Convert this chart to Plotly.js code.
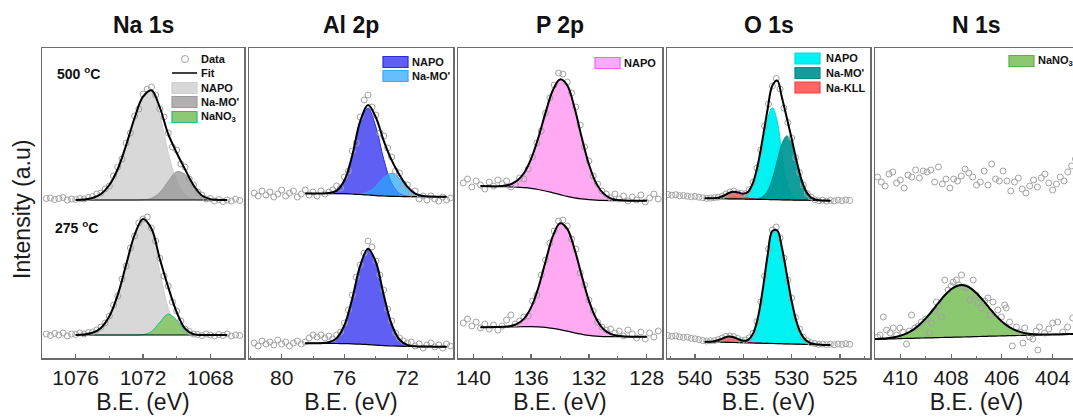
<!DOCTYPE html>
<html>
<head>
<meta charset="utf-8">
<script src="https://cdn.plot.ly/plotly-3.0.1.min.js"></script>
<style>
html,body{margin:0;padding:0;overflow:hidden;background:#fff;}
#chart{width:1080px;height:420px;}
</style>
</head>
<body>
<div id="chart"></div>
<script>
// ---------------- DATA (binding energy in eV, intensity in a.u.) ----------------
// Na 1s
const naX = [1076,1075.5,1075,1074.5,1074,1073.5,1073,1072.5,1072,1071.5,1071,1070.5,1070,1069.5,1069,1068.5,1068,1067.5,1067];
const naTopBg   = [157,157,157,157,157,157,157,157,157,157,157,157,157,157,157,157,157,157,157];
const naTopNapo = [157.1,157.5,159,163,172,188,212,239,260,265,242,204,176,162,158,157,157,157,157];
const naTopMo   = [157,157,157,157,157,157,157,157,157.3,158.8,164.5,175.8,185.3,182.6,170.9,161.5,157.9,157.1,157];
const naTopFit  = [157.1,157.5,159,163,172,188,212,239,260.3,266.8,249.5,222.8,204.3,187.6,171.9,161.5,157.9,157.1,157];
const naBotBg   = [22,22,22,22,22,22,22,22,22,22,22,22,22,22,22,22,22,22,22];
const naBotNapo = [22.1,22.5,24.2,29.1,40.7,62.2,92.4,122,137.5,125,85.3,48.9,29.9,23.6,22.2,22,22,22,22];
const naBotNano3= [22,22,22,22,22,22,22,22,22.4,25.4,34.7,42.9,37,26.7,22.65,22,22,22,22];
const naBotFit  = [22.1,22.5,24.2,29.1,40.7,62.2,92.4,122,137.9,128.4,98,69.8,44.9,28.3,22.85,22,22,22,22];
const naDataX = [1077.75,1077.5,1077.25,1077,1076.75,1076.5,1076.25,1076,1075.75,1075.5,1075.25,1075,1074.75,1074.5,1074.25,1074,1073.75,1073.5,1073.25,1073,1072.75,1072.5,1072.25,1072,1071.75,1071.5,1071.25,1071,1070.75,1070.5,1070.25,1070,1069.75,1069.5,1069.25,1069,1068.75,1068.5,1068.25,1068,1067.75,1067.5,1067.25,1067,1066.75,1066.5,1066.25];
const naTopData = [158.5,159,157.5,158.5,159.5,157,158,157.5,158.5,158,159.5,160.5,163,164,168,171,181,190,198,214,224,241,248,263,268,270,262,248,240,224,210,207,193,190,178,172,165,162,158,158.5,156,157.5,155.5,157,156,158,156.5];
const naBotData = [23,21.5,23.5,22,24,21,23,22.5,24,23,24.5,25,27,30,34,41,52,61,78,91,109,121,134,138,140,129,116,99,81,71,55,46,36,28,25.5,23,22.5,21.5,23,22,21,22.5,21.5,23,21,22,21.5];

// Al 2p
const alX = [78.5,78,77.5,77,76.5,76,75.5,75,74.5,74,73.5,73,72.5,72,71.5,71,70.5,70,69.5];
const alTopBg   = [163.5,163.5,163.5,163.5,163.4,163.3,163,162.6,162,161.4,161,160.7,160.5,160.4,160.3,160.3,160.3,160.3,160.3];
const alTopNapo = [163.5,163.5,163.5,163.9,166.4,176.8,201.9,235.2,248.8,230.1,197.8,173.9,163.7,160.9,160.3,160.3,160.3,160.3,160.3];
const alTopMo   = [163.5,163.5,163.5,163.5,163.4,163.3,163.1,163.2,165.1,170.8,179.4,183.7,178.9,169.8,163.4,160.9,160.4,160.3,160.3];
const alTopFit  = [163.5,163.5,163.5,163.9,166.4,176.8,202,235.8,251.9,239.5,216.2,196.9,182.1,170.3,163.4,160.9,160.4,160.3,160.3];
const alBotBg   = [13.7,13.7,13.7,13.6,13.5,13.4,13.2,12.9,12.4,11.9,11.4,11,10.8,10.6,10.5,10.4,10.4,10.3,10.3];
const alBotFit  = [13.7,13.7,13.8,14.7,18.9,32,58.7,91.3,108.3,94.8,62.1,32.9,17.5,12,10.7,10.4,10.4,10.3,10.3];
const alDataX = [81.75,81.5,81.25,81,80.75,80.5,80.25,80,79.75,79.5,79.25,79,78.75,78.5,78.25,78,77.75,77.5,77.25,77,76.75,76.5,76.25,76,75.75,75.5,75.25,75,74.75,74.5,74.25,74,73.75,73.5,73.25,73,72.75,72.5,72.25,72,71.75,71.5,71.25,71,70.75,70.5,70.25,70,69.75,69.5,69.25];
const alTopData = [164,161,166,162,165,160,163,167,161,164,166,160,163,167,162,165,161,166,163,165,167,171,169,180,186,206,214,240,257,262,250,242,224,221,209,200,186,184,173,172,164,166,158,161,157,161,158,156,160,157,159];
const alBotData = [14,11,16,13,15,12,17,13,15,11,14,16,13,15,19,22,20,22,19,21,18,22,25,34,47,62,80,92,104,116,110,96,82,67,48,36,24,19,16,14,15,11,13,9,12,14,10,12,9,13,11];

// P 2p
const pX = [139.5,139,138.5,138,137.5,137,136.5,136,135.5,135,134.5,134,133.5,133,132.5,132,131.5,131,130.5,130,129.5,129,128.5,128];
const pTopBg  = [171,170.8,170.6,170.4,170.1,169.8,169.3,168.6,167.5,166,164.2,162.4,160.6,159.2,158.1,157.4,156.9,156.6,156.4,156.3,156.3,156.3,156.3,156.3];
const pTopFit = [171,170.8,170.6,171.1,172.3,176,183.8,198.2,219.3,244.4,266.5,277.6,271.7,249.4,219.7,192.8,173.9,163.6,158.7,157,156.4,156.3,156.3,156.3];
const pBotBg  = [29.7,29.8,29.9,30,30.1,30.2,30.3,30.3,30.1,29.6,28.6,27.3,25.8,24.2,22.8,21.6,20.8,20.4,20.3,20.3,20.3,20.3,20.3,20.3];
const pBotFit = [29.7,29.8,29.9,30.2,30.8,32.9,38.1,49.6,69.3,95.6,120.6,133.7,128.2,108.2,81.4,56.4,38.5,28,23.1,21.2,20.5,20.3,20.3,20.3];
const pDataX = [140.7,140.4,140.1,139.8,139.5,139.2,138.9,138.6,138.3,138,137.7,137.4,137.1,136.8,136.5,136.2,135.9,135.6,135.3,135,134.7,134.4,134.1,133.8,133.5,133.2,132.9,132.6,132.3,132,131.7,131.4,131.1,130.8,130.5,130.2,129.9,129.6,129.3,129,128.7,128.4,128.1,127.8,127.5,127.2];
const pTopData = [174,178,170,176,172,168,175,171,177,173,176,170,173,179,178,188,200,214,226,244,259,272,284,283,275,264,250,232,210,196,181,173,166,163,159,163,158,161,156,160,157,162,155,159,163,158];
const pBotData = [34,38,31,35,29,33,28,32,27,31,37,42,33,36,40,41,56,62,82,97,114,126,136,137,131,118,108,84,72,57,46,35,30,27,28,24,26,21,27,23,19,25,18,24,20,26];

// O 1s
const oX = [539,538.5,538,537.5,537,536.5,536,535.5,535,534.5,534,533.5,533,532.5,532,531.5,531,530.5,530,529.5,529,528.5,528,527.5,527,526.5,526];
const oTopBg   = [158.7,158.6,158.5,158.4,158.3,158.2,158.2,158.1,158,157.9,157.8,157.7,157.6,157.5,157.4,157.3,157.2,157.1,157,156.9,156.9,156.8,156.7,156.6,156.5,156.4,156.3];
const oTopNapo = [158.7,158.6,158.5,158.4,158.3,158.2,158.3,158.6,160,164.1,174,191.7,215.9,238.6,249.3,235.9,202.6,174.9,161.7,157.7,157,156.8,156.7,156.6,156.5,156.4,156.3];
const oTopMo   = [158.7,158.6,158.5,158.4,158.3,158.2,158.2,158.1,158,157.9,157.9,158.4,160.4,166.1,178.2,196.1,213.6,221.1,213.4,195.7,177.7,165.4,159.5,157.3,156.6,156.4,156.3];
const oTopKll  = [158.7,158.65,158.8,159.6,161.5,164,165.2,163.9,161.2,159.1,158.1,157.75,157.6,157.5,157.4,157.3,157.2,157.1,157,156.9,156.9,156.8,156.7,156.6,156.5,156.4,156.3];
const oTopFit  = [158.7,158.65,158.8,159.6,161.5,164,165.3,164.4,163.2,165.3,174.4,192.5,218.7,247.2,271.5,276.5,259,238.9,218.1,196.5,177.8,165.4,159.5,157.3,156.6,156.4,156.3];
const oBotBg   = [15.25,15.1,15,14.9,14.75,14.6,14.5,14.4,14.25,14.1,14,13.9,13.75,13.6,13.5,13.4,13.25,13.1,13,12.9,12.75,12.6,12.5,12.4,12.25,12.1,12];
const oBotNapo = [15.25,15.1,15,14.9,14.75,14.6,14.5,14.5,14.85,16.8,23.3,39.2,67.05,101,126,126.5,108.75,82.3,55.6,35.3,22.75,16.4,13.7,12.7,12.35,12.1,12];
const oBotKll  = [15.25,15.3,15.8,17.2,19.25,20.6,19.8,17.6,15.55,14.5,14.1,13.9,13.75,13.6,13.5,13.4,13.25,13.1,13,12.9,12.75,12.6,12.5,12.4,12.25,12.1,12];
const oBotFit  = [15.25,15.3,15.8,17.2,19.25,20.6,19.8,17.7,16.15,17.2,23.4,39.2,67.05,101,126,126.5,108.75,82.3,55.6,35.3,22.75,16.4,13.7,12.7,12.35,12.1,12];
const oDataX = [542.8,542.4,542,541.6,541.2,540.8,540.4,540,539.6,539.2,538.8,538.4,538,537.6,537.2,536.8,536.4,536,535.6,535.2,534.8,534.4,534,533.6,533.2,532.8,532.4,532,531.6,531.2,530.8,530.4,530,529.6,529.2,528.8,528.4,528,527.6,527.2,526.8,526.4,526,525.6,525.2,524.8,524.4,524];
const oTopData = [162.5,161.8,162.3,161.2,161.6,160.8,160.2,160.6,159.8,159.2,158.6,158.9,159.3,159.8,160.9,163.1,164.9,165.9,164.2,163.6,163.2,167.3,174.8,189,207,231,253,271,278.5,268,249,234.5,219,199.5,184.5,172,163.5,160,157.2,156.2,156.8,155.9,156.6,156,156.9,156.2,157.1,156.5];
const oBotData = [21.5,20.8,21.2,20.1,19.6,19.9,18.7,18.2,17.4,16.5,16,16.2,16.4,17.4,18.9,20.6,21,20.5,18.6,16.4,16.9,19.2,23.8,35.5,55,81,108,127,130,119,99,77,59,39.5,28,19.8,16.1,14.2,13.4,12.6,12.9,12.3,12.8,12.2,13,12.5,13.3,12.7];

// N 1s
const nTopX = [410.9,410.75,410.6,410.45,410.3,410.15,410,409.85,409.7,409.55,409.4,409.25,409.1,408.95,408.8,408.65,408.5,408.35,408.2,408.05,407.9,407.75,407.6,407.45,407.3,407.15,407,406.85,406.7,406.55,406.4,406.25,406.1,405.95,405.8,405.65,405.5,405.35,405.2,405.05,404.9,404.75,404.6,404.45,404.3,404.15,404,403.85,403.7,403.55,403.4,403.25,403.1];
const nTopData = [180,175,171,183,185,174,177,169,182,180,187,179,186,185,187,175,190,173,178,169,178,176,181,188,184,180,172,175,186,172,193,178,176,186,176,166,175,179,168,164,171,177,170,179,183,174,167,173,180,176,185,191,198];
const nX = [411,410.75,410.5,410.25,410,409.75,409.5,409.25,409,408.75,408.5,408.25,408,407.75,407.5,407.25,407,406.75,406.5,406.25,406,405.75,405.5,405.25,405,404.75,404.5,404.25,404,403.75,403.5,403.25,403];
const nBotBg  = [17.7,17.9,18,18.2,18.4,18.6,18.7,18.9,19.1,19.2,19.4,19.6,19.7,19.9,20,20.2,20.4,20.6,20.8,20.9,21.1,21.3,21.4,21.6,21.8,21.9,22.1,22.3,22.5,22.6,22.8,23,23.1];
const nBotFit = [17.9,18.3,18.8,19.8,21.3,23.7,27.2,32.2,38.6,46,54.1,61.7,67.7,71.3,71.7,69.1,63.8,56.8,49.2,41.8,35.6,30.7,27.1,24.9,23.6,22.8,22.5,22.5,22.6,22.6,22.8,23,23.1];
const nBotDataX = [410.9,410.8,410.67,410.54,410.4,410.28,410.15,410.02,409.9,409.76,409.65,409.56,409.43,409.3,409.17,409,408.84,408.77,408.65,408.58,408.48,408.38,408.25,408.12,408,407.92,407.79,407.7,407.59,407.5,407.39,407.26,407.13,407.02,406.94,406.81,406.68,406.55,406.48,406.35,406.16,406.02,405.89,405.83,405.7,405.59,405.43,405.3,405.17,405.1,404.91,404.78,404.65,404.58,404.52,404.32,404.15,404,403.8,403.6,403.41,403.21,403.05];
const nBotData = [20,22,40,27,24,29,22,29,25,13,26,42,29,31,35,38,24,34,46,55,51,40,77,67,71,75,77,72,82,70,69,57,77,62,54,49,56,59,42,55,47,40,52,49,35,11,30,25,14,29,20,18,26,7,30,24,28,34,35,25,30,39,33];

const panelTitles = ['Na 1s','Al 2p','P 2p','O 1s','N 1s'];
const xRanges = [[1078,1066],[82.08,69.09],[141.06,126.94],[542.9,521.9],[411,403]];
const xTick0 = [1068,72,128,525,404];
const xDtick = [4,4,4,5,2];
const xMinor = [2,2,2,2.5,1];
const tempLabels = ['500 <sup>o</sup>C','275 <sup>o</sup>C'];
const xTitle = 'B.E. (eV)';
const yTitle = 'Intensity (a.u)';

// ---------------- LAYOUT HELPERS ----------------
const W = 1080, H = 420;
const FONT = 'Liberation Sans, Arial, sans-serif';
const NARROW = 'Liberation Sans Narrow, Arial Narrow, Liberation Sans, Arial, sans-serif';
const panelPx = [[42,244],[249,453],[458,662],[667,870],[875,1078]];
const yTopPx = 48, yBotPx = 358;
const fx = p => p / W;
const fy = p => 1 - p / H;
const FRAME = '#6b6b6b';

const traces = [];
function ax(i){ return {xaxis: 'x' + (i ? i + 1 : ''), yaxis: 'y' + (i ? i + 1 : '')}; }
function filled(i, xs, base, top, fill, edge){
  traces.push(Object.assign({x: xs, y: base, mode: 'lines', line: {width: 0, shape: 'spline'}, hoverinfo: 'skip', showlegend: false}, ax(i)));
  traces.push(Object.assign({x: xs, y: top, mode: 'lines', fill: 'tonexty', fillcolor: fill, line: {color: edge, width: 1, shape: 'spline'}, hoverinfo: 'skip', showlegend: false}, ax(i)));
}
function lineT(i, xs, ys, w){
  traces.push(Object.assign({x: xs, y: ys, mode: 'lines', line: {color: '#000', width: w, shape: 'spline'}, hoverinfo: 'skip', showlegend: false}, ax(i)));
}
function dataT(i, xs, ys){
  traces.push(Object.assign({x: xs, y: ys, mode: 'markers', marker: {symbol: 'circle-open', size: 6, color: '#a2a2a2', line: {width: 1}}, hoverinfo: 'skip', showlegend: false}, ax(i)));
}

const C = {
  naNapo: ['rgba(214,214,214,0.95)', '#cfcfcf'],
  naMo:   ['rgba(150,150,150,0.75)', '#9c9c9c'],
  nano3:  ['#8dc874', '#19c08a'],
  alNapo: ['rgba(86,86,242,0.95)', '#2b2be6'],
  alMo:   ['rgba(45,165,255,0.72)', '#39a6ff'],
  pNapo:  ['#ffaaf2', '#ff5ee8'],
  oNapo:  ['#00f2f2', '#00dede'],
  oMo:    ['rgba(0,150,150,0.93)', '#008a8a'],
  oKll:   ['rgba(255,88,88,0.92)', '#ff3c3c'],
  nNano3: ['#8cc86f', '#5fae4c']
};

// Na 1s
filled(0, naX, naTopBg, naTopNapo, ...C.naNapo);
filled(0, naX, naTopBg, naTopMo, ...C.naMo);
lineT(0, naX, naTopBg, 1.2);
dataT(0, naDataX, naTopData);
lineT(0, naX, naTopFit, 2);
filled(0, naX, naBotBg, naBotNapo, ...C.naNapo);
filled(0, naX, naBotBg, naBotNano3, ...C.nano3);
lineT(0, naX, naBotBg, 1.2);
dataT(0, naDataX, naBotData);
lineT(0, naX, naBotFit, 2);
// Al 2p
filled(1, alX, alTopBg, alTopNapo, ...C.alNapo);
filled(1, alX, alTopBg, alTopMo, ...C.alMo);
lineT(1, alX, alTopBg, 1.2);
dataT(1, alDataX, alTopData);
lineT(1, alX, alTopFit, 2);
filled(1, alX, alBotBg, alBotFit, ...C.alNapo);
lineT(1, alX, alBotBg, 1.2);
dataT(1, alDataX, alBotData);
lineT(1, alX, alBotFit, 2);
// P 2p
filled(2, pX, pTopBg, pTopFit, ...C.pNapo);
lineT(2, pX, pTopBg, 1.2);
dataT(2, pDataX, pTopData);
lineT(2, pX, pTopFit, 2);
filled(2, pX, pBotBg, pBotFit, ...C.pNapo);
lineT(2, pX, pBotBg, 1.2);
dataT(2, pDataX, pBotData);
lineT(2, pX, pBotFit, 2);
// O 1s
filled(3, oX, oTopBg, oTopNapo, ...C.oNapo);
filled(3, oX, oTopBg, oTopMo, ...C.oMo);
filled(3, oX, oTopBg, oTopKll, ...C.oKll);
lineT(3, oX, oTopBg, 1.2);
dataT(3, oDataX, oTopData);
lineT(3, oX, oTopFit, 2);
filled(3, oX, oBotBg, oBotNapo, ...C.oNapo);
filled(3, oX, oBotBg, oBotKll, ...C.oKll);
lineT(3, oX, oBotBg, 1.2);
dataT(3, oDataX, oBotData);
lineT(3, oX, oBotFit, 2);
// N 1s
dataT(4, nTopX, nTopData);
filled(4, nX, nBotBg, nBotFit, ...C.nNano3);
lineT(4, nX, nBotBg, 1.2);
dataT(4, nBotDataX, nBotData);
lineT(4, nX, nBotFit, 2);

// ---------------- AXES ----------------
const layout = {
  width: W, height: H,
  margin: {l: 0, r: 0, t: 0, b: 0},
  paper_bgcolor: '#fff', plot_bgcolor: '#fff',
  font: {family: FONT, color: '#1a1a1a'},
  showlegend: false,
  shapes: [], annotations: []
};
for (let i = 0; i < 5; i++) {
  const xk = 'xaxis' + (i ? i + 1 : ''), yk = 'yaxis' + (i ? i + 1 : '');
  layout[xk] = {
    domain: [fx(panelPx[i][0]), fx(panelPx[i][1])],
    range: xRanges[i], anchor: 'y' + (i ? i + 1 : ''),
    showline: true, mirror: true, linecolor: FRAME, linewidth: 1.5,
    ticks: 'inside', ticklen: 4, tickwidth: 1.2, tickcolor: FRAME,
    tick0: xTick0[i], dtick: xDtick[i],
    minor: {dtick: xMinor[i], tick0: xTick0[i], ticks: 'inside', ticklen: 2.5, tickwidth: 1, tickcolor: FRAME},
    tickfont: {size: 21, color: '#1a1a1a', family: FONT},
    showgrid: false, zeroline: false,
    title: {text: xTitle, font: {size: 23, color: '#1a1a1a', family: FONT}, standoff: 6}
  };
  layout[yk] = {
    domain: [fy(yBotPx), fy(yTopPx)],
    range: [-1, 309], anchor: 'x' + (i ? i + 1 : ''),
    showline: true, mirror: true, linecolor: FRAME, linewidth: 1.5,
    showticklabels: false, ticks: '', showgrid: false, zeroline: false
  };
  layout.annotations.push({
    xref: 'paper', yref: 'paper', x: fx((panelPx[i][0] + panelPx[i][1]) / 2), y: fy(25),
    xanchor: 'center', yanchor: 'middle', showarrow: false,
    text: '<b>' + panelTitles[i] + '</b>', font: {size: 23, family: FONT, color: '#111'}
  });
}
// y-axis title (shared by the whole row of panels)
layout.annotations.push({xref: 'paper', yref: 'paper', x: fx(22), y: fy(210), xanchor: 'center', yanchor: 'middle',
  showarrow: false, textangle: -90, text: yTitle, font: {size: 23, family: FONT, color: '#1a1a1a'}});

// temperature labels
layout.annotations.push({xref: 'paper', yref: 'paper', x: fx(55), y: fy(73), xanchor: 'left', yanchor: 'middle', showarrow: false,
  text: '<b>' + tempLabels[0] + '</b>', font: {size: 14, family: FONT, color: '#111'}});
layout.annotations.push({xref: 'paper', yref: 'paper', x: fx(53), y: fy(227), xanchor: 'left', yanchor: 'middle', showarrow: false,
  text: '<b>' + tempLabels[1] + '</b>', font: {size: 14, family: FONT, color: '#111'}});

// legends
function legText(x, yc, t){
  layout.annotations.push({xref: 'paper', yref: 'paper', x: fx(x), y: fy(yc), xanchor: 'left', yanchor: 'middle', showarrow: false,
    text: '<b>' + t + '</b>', font: {size: 11, family: NARROW, color: '#111'}});
}
function legBox(x0, yc, col){
  layout.shapes.push({type: 'rect', xref: 'paper', yref: 'paper', x0: fx(x0), x1: fx(x0 + 25), y0: fy(yc + 5.5), y1: fy(yc - 5.5),
    fillcolor: col[0], line: {color: col[1], width: 1.2}});
}
// Na legend
layout.shapes.push({type: 'circle', xref: 'paper', yref: 'paper', x0: fx(181.5), x1: fx(188.5), y0: fy(62.5), y1: fy(55.5), line: {color: '#a2a2a2', width: 1}});
legText(199, 59, 'Data');
layout.shapes.push({type: 'line', xref: 'paper', yref: 'paper', x0: fx(172), x1: fx(197), y0: fy(73), y1: fy(73), line: {color: '#000', width: 1.5}});
legText(199, 73, 'Fit');
legBox(172, 88, C.naNapo); legText(199, 88, 'NAPO');
legBox(172, 102, C.naMo); legText(199, 102, "Na-MO'");
legBox(172, 117, C.nano3); legText(199, 117, 'NaNO<sub>3</sub>');
// Al legend
legBox(383, 62, C.alNapo); legText(410, 62, 'NAPO');
legBox(383, 76, C.alMo); legText(410, 76, "Na-MO'");
// P legend
legBox(595, 63, C.pNapo); legText(622, 63, 'NAPO');
// O legend
legBox(795, 58.5, C.oNapo); legText(824, 58.5, 'NAPO');
legBox(795, 73, C.oMo); legText(824, 73, "Na-MO'");
legBox(795, 87.5, C.oKll); legText(824, 87.5, 'Na-KLL');
// N legend
legBox(1009, 61, C.nNano3); legText(1036, 61, 'NaNO<sub>3</sub>');

Plotly.newPlot('chart', traces, layout, {staticPlot: true, displayModeBar: false});
</script>
</body>
</html>
